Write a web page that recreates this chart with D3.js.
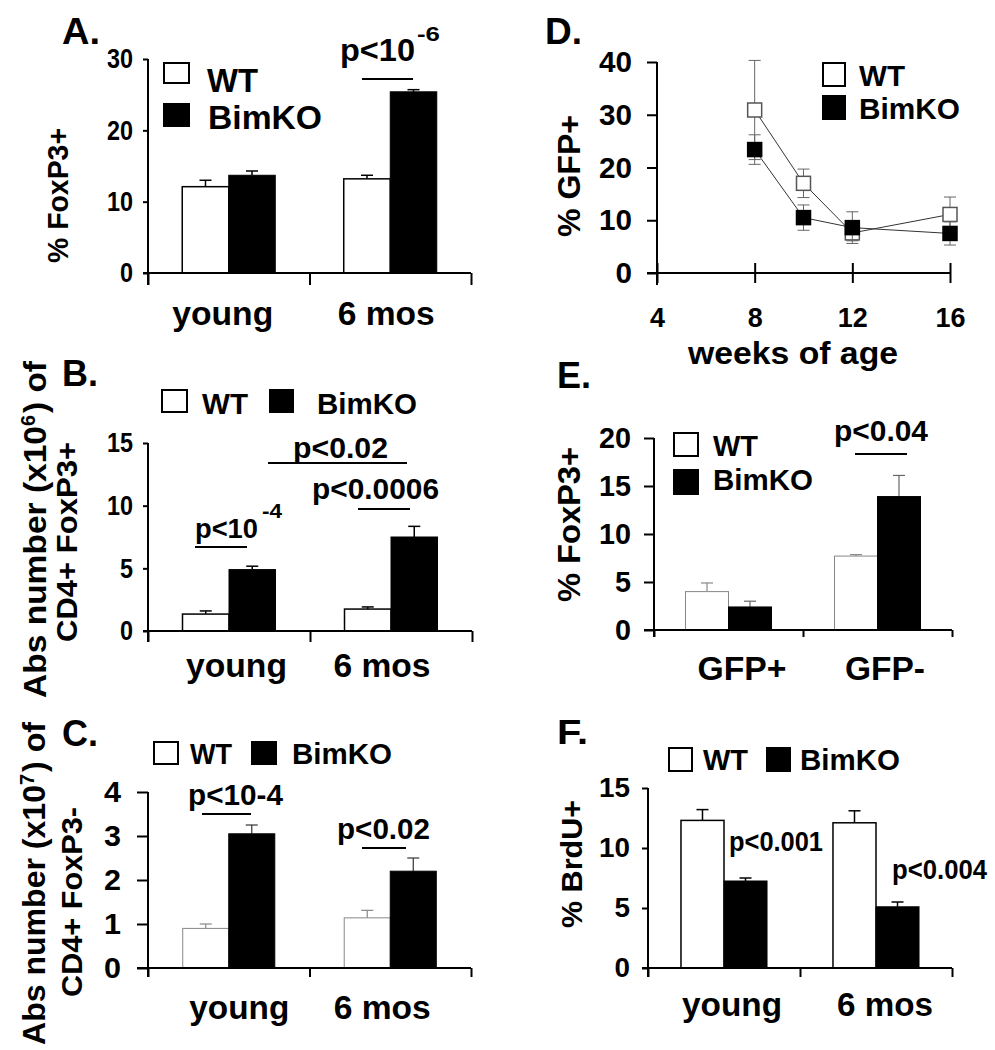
<!DOCTYPE html>
<html><head><meta charset="utf-8">
<script src="https://cdn.jsdelivr.net/npm/d3@7"></script>
<style>
body{margin:0;background:#fff}
svg{display:block}
text{font-family:"Liberation Sans",Arial,Helvetica,sans-serif;font-weight:bold;fill:#000}
</style>
</head><body>
<svg id="c" width="995" height="1050"></svg>
<script>
// ---------------- DATA ----------------
const series = ["WT", "BimKO"];
const ageGroups = ["young", "6 mos"];
const gfpGroups = ["GFP+", "GFP-"];

// A: % FoxP3+
const wtA = [12.1, 13.2], wtErrA = [0.9, 0.5];
const koA = [13.7, 25.4], koErrA = [0.6, 0.3];
const ticksA = [0, 10, 20, 30];

// B: Abs number (x10^6) CD4+ FoxP3+
const wtB = [1.35, 1.75], wtErrB = [0.25, 0.17];
const koB = [4.9, 7.5], koErrB = [0.27, 0.85];
const ticksB = [0, 5, 10, 15];

// C: Abs number (x10^7) CD4+ FoxP3-
const wtC = [0.9, 1.14], wtErrC = [0.1, 0.17];
const koC = [3.05, 2.2], koErrC = [0.2, 0.3];
const ticksC = [0, 1, 2, 3, 4];

// D: % GFP+ vs weeks of age
const weeksD = [8, 10, 12, 16];
const wtD = [30.9, 17.0, 7.6, 11.1], wtErrD = [9.4, 2.7, 1.5, 3.3];
const koD = [23.4, 10.5, 8.6, 7.5], koErrD = [2.8, 2.4, 3.0, 2.2];
const yTicksD = [0, 10, 20, 30, 40];
const xTicksD = [4, 8, 12, 16];

// E: % FoxP3+ by GFP
const wtE = [4.0, 7.7], wtErrE = [0.9, 0.15];
const koE = [2.4, 13.9], koErrE = [0.6, 2.2];
const ticksE = [0, 5, 10, 15, 20];

// F: % BrdU+
const wtF = [12.3, 12.1], wtErrF = [0.9, 1.0];
const koF = [7.25, 5.1], koErrF = [0.25, 0.4];
const ticksF = [0, 5, 10, 15];

// ---------------- HELPERS ----------------
const svg = d3.select("#c");
const fmt = d3.format("d");

function T(p, s, x, y, size, w, anchor) {
  const t = p.append("text").attr("x", x).attr("y", y).attr("font-size", size).text(s);
  if (anchor) t.attr("text-anchor", anchor);
  if (w) t.attr("textLength", w).attr("lengthAdjust", "spacingAndGlyphs");
  return t;
}

function rotLabel(p, lab) {
  const g = p.append("g").attr("transform", `translate(${lab.x},${lab.y}) rotate(-90)`);
  let pos = 0;
  lab.parts.forEach(pt => {
    T(g, pt[0], pos, pt[3], pt[1], pt[2]);
    pos += pt[2] + (pt[3] !== 0 ? 2 : 0);
  });
}

function styleTicks(sel, size, charW) {
  sel.attr("font-size", size).attr("font-family", null);
  sel.selectAll("text").each(function (d) {
    d3.select(this).attr("font-size", size)
      .attr("textLength", fmt(d).length * charW)
      .attr("lengthAdjust", "spacingAndGlyphs");
  });
  sel.selectAll("line").attr("stroke", "#000").attr("stroke-width", 2);
}

function legend(p, L) {
  const fills = ["#fff", "#000"];
  L.boxes.forEach((b, i) => {
    p.append("rect").attr("x", b[0]).attr("y", b[1]).attr("width", b[2]).attr("height", b[3])
      .attr("fill", fills[i]).attr("stroke", "#000").attr("stroke-width", 2);
  });
  L.texts.forEach(t => T(p, t[0], t[1], t[2], L.size, t[3]));
}

function barPanel(c) {
  const g = svg.append("g");
  const y = d3.scaleLinear().domain(c.yDomain).range(c.yRange);
  const x0 = d3.scaleBand().domain(c.groups).range(c.xRange);
  const x1 = d3.scaleBand().domain(series).range([0, x0.bandwidth()])
    .paddingInner(0).paddingOuter(1 / c.frac - 1);
  const rows = [];
  c.groups.forEach((grp, i) => {
    rows.push({ grp, s: "WT", v: c.wt[i], e: c.wtErr[i] });
    rows.push({ grp, s: "BimKO", v: c.ko[i], e: c.koErr[i] });
  });
  const cx = d => x0(d.grp) + x1(d.s) + x1.bandwidth() / 2;

  g.selectAll(".eb").data(rows).join("line")
    .attr("x1", cx).attr("x2", cx)
    .attr("y1", d => y(d.v)).attr("y2", d => y(d.v + d.e))
    .attr("stroke", d => c.errColor[d.s]).attr("stroke-width", c.errW);
  g.selectAll(".ec").data(rows).join("line")
    .attr("x1", d => cx(d) - c.cap / 2).attr("x2", d => cx(d) + c.cap / 2)
    .attr("y1", d => y(d.v + d.e)).attr("y2", d => y(d.v + d.e))
    .attr("stroke", d => c.errColor[d.s]).attr("stroke-width", c.errW);

  g.selectAll(".bar").data(rows).join("rect")
    .attr("x", d => x0(d.grp) + x1(d.s)).attr("width", x1.bandwidth())
    .attr("y", d => y(d.v)).attr("height", d => y(0) - y(d.v))
    .attr("fill", d => d.s === "WT" ? "#fff" : "#000")
    .attr("stroke", d => d.s === "WT" ? c.wtStroke : "#000")
    .attr("stroke-width", d => d.s === "WT" ? c.wtStrokeW : 1);

  const ya = g.append("g").attr("transform", `translate(${c.xRange[0]},0)`)
    .call(d3.axisLeft(y).tickValues(c.ticks).tickFormat(fmt).tickSize(c.tickLen).tickSizeOuter(0));
  ya.select(".domain").remove();
  styleTicks(ya, c.tickSize, c.charW);
  ya.selectAll("text").attr("x", -c.lblOff);
  g.append("line").attr("x1", c.xRange[0]).attr("x2", c.xRange[0])
    .attr("y1", c.yRange[1]).attr("y2", y(0) + c.xTickLen).attr("stroke", "#000").attr("stroke-width", 2);

  const bounds = d3.scalePoint().domain(d3.range(c.groups.length + 1)).range(c.xRange);
  const xa = g.append("g").attr("transform", `translate(0,${y(0)})`)
    .call(d3.axisBottom(bounds).tickSize(c.xTickLen).tickSizeOuter(0).tickFormat(""));
  xa.select(".domain").remove();
  xa.selectAll("line").attr("stroke", "#000").attr("stroke-width", 2);
  g.append("line").attr("x1", c.xRange[0] - c.tickLen).attr("x2", c.xRange[1])
    .attr("y1", y(0)).attr("y2", y(0)).attr("stroke", "#000").attr("stroke-width", 2);

  c.groups.forEach((grp, i) => {
    T(g, grp, x0(grp) + x0.bandwidth() / 2 + c.catDx[i], c.catY, c.catSize, c.catW[i], "middle");
  });

  T(g, c.letter[0], c.letter[1], c.letter[2], c.letter[3], c.letter[4]);
  legend(g, c.legend);
  c.notes.forEach(n => T(g, n[0], n[1], n[2], n[3], n[4]));
  c.lines.forEach(l => g.append("line").attr("x1", l[0]).attr("x2", l[1]).attr("y1", l[2]).attr("y2", l[2])
    .attr("stroke", "#000").attr("stroke-width", 2));
  c.ylab.forEach(l => rotLabel(g, l));
}

// ---------------- PANELS ----------------
barPanel({
  groups: ageGroups, wt: wtA, wtErr: wtErrA, ko: koA, koErr: koErrA,
  yDomain: [0, 30], yRange: [273, 59], xRange: [148, 471], frac: 0.576,
  ticks: ticksA, tickLen: 5, lblOff: 15, tickSize: 28, charW: 13, xTickLen: 12,
  wtStroke: "#000", wtStrokeW: 1.5, errColor: { WT: "#000", BimKO: "#000" }, errW: 1.5, cap: 12,
  catY: 325, catSize: 34, catDx: [-6, -4], catW: [101, 97],
  letter: ["A.", 62, 44, 37, 38],
  legend: { size: 33, boxes: [[164, 63, 25, 20], [164, 104, 25, 22]], texts: [["WT", 207, 92, 51], ["BimKO", 208, 129, 114]] },
  notes: [["p<10", 340, 61, 32, 75], ["-6", 417, 41, 21, 23]],
  lines: [[362, 413, 79]],
  ylab: [{ x: 68, y: 263, parts: [["% FoxP3+", 29, 135, 0]] }]
});

barPanel({
  groups: ageGroups, wt: wtB, wtErr: wtErrB, ko: koB, koErr: koErrB,
  yDomain: [0, 15], yRange: [631, 443], xRange: [148, 472], frac: 0.574,
  ticks: ticksB, tickLen: 5, lblOff: 15, tickSize: 28, charW: 13, xTickLen: 11,
  wtStroke: "#000", wtStrokeW: 1.5, errColor: { WT: "#000", BimKO: "#000" }, errW: 1.5, cap: 12,
  catY: 677, catSize: 34, catDx: [7.5, -9], catW: [101, 97],
  letter: ["B.", 62, 386, 36, 36],
  legend: { size: 30, boxes: [[162, 390, 25, 22], [270, 390, 23, 22]], texts: [["WT", 202, 414, 46], ["BimKO", 317, 414, 100]] },
  notes: [["p<10", 195, 538, 27, 63], ["-4", 262, 518, 20, 20], ["p<0.02", 293, 458, 30, 95], ["p<0.0006", 312, 499, 30, 127]],
  lines: [[195, 247, 547], [268, 407, 463], [358, 410, 509]],
  ylab: [
    { x: 46, y: 698, parts: [["Abs number (x10", 31, 272, 0], ["6", 20, 11, -11], [") of", 31, 52, 0]] },
    { x: 77, y: 642, parts: [["CD4+ FoxP3+", 30, 200, 0]] }
  ]
});

barPanel({
  groups: ageGroups, wt: wtC, wtErr: wtErrC, ko: koC, koErr: koErrC,
  yDomain: [0, 4], yRange: [968, 792], xRange: [148, 471], frac: 0.57,
  ticks: ticksC, tickLen: 11, lblOff: 27, tickSize: 30, charW: 17, xTickLen: 9,
  wtStroke: "#888", wtStrokeW: 1, errColor: { WT: "#888", BimKO: "#333" }, errW: 1.2, cap: 12,
  catY: 1019, catSize: 34, catDx: [10.5, -8], catW: [100, 97],
  letter: ["C.", 62, 746, 36, 36],
  legend: { size: 29, boxes: [[154, 742, 24, 22], [252, 742, 24, 22]], texts: [["WT", 190, 764, 42], ["BimKO", 292, 764, 100]] },
  notes: [["p<10-4", 188, 805, 30, 95], ["p<0.02", 337, 839, 30, 93]],
  lines: [[202, 251, 814], [362, 406, 848]],
  ylab: [
    { x: 45, y: 1045, parts: [["Abs number (x10", 31, 260, 0], ["7", 20, 11, -11], [") of", 31, 50, 0]] },
    { x: 82, y: 997, parts: [["CD4+ FoxP3-", 30, 190, 0]] }
  ]
});

barPanel({
  groups: gfpGroups, wt: wtE, wtErr: wtErrE, ko: koE, koErr: koErrE,
  yDomain: [0, 20], yRange: [630, 438], xRange: [654, 952], frac: 0.577,
  ticks: ticksE, tickLen: 10, lblOff: 23, tickSize: 29, charW: 16, xTickLen: 7,
  wtStroke: "#888", wtStrokeW: 1, errColor: { WT: "#888", BimKO: "#666" }, errW: 1.2, cap: 12,
  catY: 680, catSize: 34, catDx: [13.5, 7.5], catW: [89, 80],
  letter: ["E.", 557, 388, 36, 34],
  legend: { size: 30, boxes: [[674, 433, 24, 23], [674, 470, 24, 24]], texts: [["WT", 713, 456, 45], ["BimKO", 713, 490, 100]] },
  notes: [["p<0.04", 834, 441, 30, 94]],
  lines: [[855, 907, 454]],
  ylab: [{ x: 580, y: 602, parts: [["% FoxP3+", 32, 155, 0]] }]
});

barPanel({
  groups: ageGroups, wt: wtF, wtErr: wtErrF, ko: koF, koErr: koErrF,
  yDomain: [0, 15], yRange: [968, 788], xRange: [648, 952], frac: 0.566,
  ticks: ticksF, tickLen: 6, lblOff: 18, tickSize: 28, charW: 15.5, xTickLen: 9,
  wtStroke: "#000", wtStrokeW: 1.5, errColor: { WT: "#000", BimKO: "#000" }, errW: 1.5, cap: 12,
  catY: 1016, catSize: 34, catDx: [8, 9], catW: [100, 96],
  letter: ["F.", 557, 744, 35, 31],
  legend: { size: 30, boxes: [[669, 748, 23, 23], [767, 748, 23, 23]], texts: [["WT", 703, 770, 45], ["BimKO", 800, 770, 100]] },
  notes: [["p<0.001", 729, 851, 27, 94], ["p<0.004", 892, 879, 27, 95]],
  lines: [],
  ylab: [{ x: 582, y: 928, parts: [["% BrdU+", 30, 128, 0]] }]
});

// ---------------- PANEL D (line chart) ----------------
(function () {
  const g = svg.append("g");
  const y = d3.scaleLinear().domain([0, 40]).range([273, 62]);
  const x = d3.scaleLinear().domain([4, 16]).range([657, 950]);

  const ya = g.append("g").attr("transform", "translate(657,0)")
    .call(d3.axisLeft(y).tickValues(yTicksD).tickFormat(fmt).tickSize(10).tickSizeOuter(0));
  ya.select(".domain").remove();
  styleTicks(ya, 30, 16.5);
  ya.selectAll("text").attr("x", -25);
  g.append("line").attr("x1", 657).attr("x2", 657).attr("y1", 62).attr("y2", 285)
    .attr("stroke", "#000").attr("stroke-width", 2);

  const xa = g.append("g").attr("transform", `translate(0,${y(0)})`)
    .call(d3.axisBottom(x).tickValues(xTicksD).tickFormat(fmt).tickSize(10).tickSizeOuter(0));
  xa.select(".domain").remove();
  styleTicks(xa, 27, 15);
  xa.selectAll("line").attr("y1", -10).attr("y2", 10);
  xa.selectAll("text").attr("y", 54).attr("dy", 0);
  g.append("line").attr("x1", 647).attr("x2", 950).attr("y1", y(0)).attr("y2", y(0))
    .attr("stroke", "#000").attr("stroke-width", 2);

  const mk = 14, cap = 12;
  const sets = [
    { v: wtD, e: wtErrD, fill: "#fff", stroke: "#555" },
    { v: koD, e: koErrD, fill: "#000", stroke: "#000" }
  ];
  const line = d3.line().x((d, i) => x(weeksD[i])).y(d => y(d));
  sets.forEach(s => {
    const pts = weeksD.map((w, i) => ({ w, v: s.v[i], e: s.e[i] }));
    g.append("path").attr("d", line(s.v)).attr("fill", "none").attr("stroke", "#333").attr("stroke-width", 1);
    const eg = g.append("g").attr("stroke", "#666").attr("stroke-width", 1);
    eg.selectAll(".v").data(pts).join("line")
      .attr("x1", d => x(d.w)).attr("x2", d => x(d.w))
      .attr("y1", d => y(d.v + d.e)).attr("y2", d => y(d.v - d.e));
    eg.selectAll(".t").data(pts).join("line")
      .attr("x1", d => x(d.w) - cap / 2).attr("x2", d => x(d.w) + cap / 2)
      .attr("y1", d => y(d.v + d.e)).attr("y2", d => y(d.v + d.e));
    eg.selectAll(".b").data(pts).join("line")
      .attr("x1", d => x(d.w) - cap / 2).attr("x2", d => x(d.w) + cap / 2)
      .attr("y1", d => y(d.v - d.e)).attr("y2", d => y(d.v - d.e));
    g.selectAll(".m").data(pts).join("rect")
      .attr("x", d => x(d.w) - mk / 2).attr("y", d => y(d.v) - mk / 2)
      .attr("width", mk).attr("height", mk)
      .attr("fill", s.fill).attr("stroke", s.stroke).attr("stroke-width", 1.5);
  });

  T(g, "weeks of age", 793, 364, 32, 210, "middle");
  T(g, "D.", 545, 44, 37, 37);
  legend(g, { size: 30, boxes: [[823, 63, 22, 23], [823, 96, 22, 23]], texts: [["WT", 859, 86, 46], ["BimKO", 859, 119, 101]] });
  rotLabel(g, { x: 580, y: 237, parts: [["% GFP+", 32, 122, 0]] });
})();
</script>
</body></html>
